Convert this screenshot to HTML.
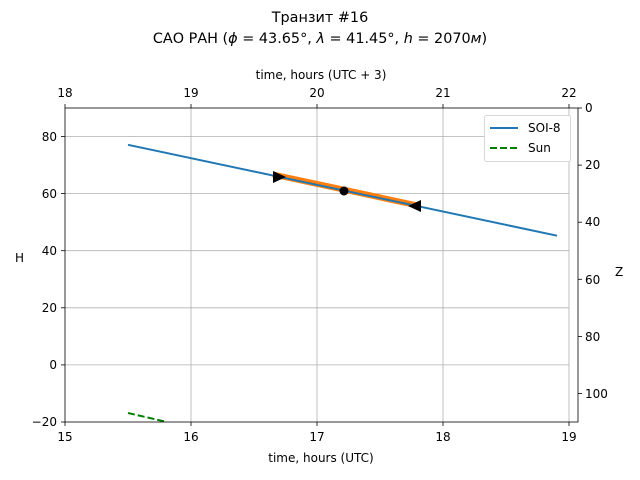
<!DOCTYPE html>
<html><head><meta charset="utf-8"><style>body{margin:0;background:#fff}svg{display:block}text{font-family:"DejaVu Sans","Liberation Sans",sans-serif;fill:#000}</style></head><body>
<svg width="640" height="480" xmlns="http://www.w3.org/2000/svg">
<text x="320" y="22" font-size="14.4" text-anchor="middle">Транзит #16</text>
<text x="320" y="43" font-size="14.4" text-anchor="middle">САО РАН (<tspan font-style="italic">ϕ</tspan> = 43.65°, <tspan font-style="italic">λ</tspan> = 41.45°, <tspan font-style="italic">h</tspan> = 2070<tspan font-style="italic">м</tspan>)</text>
<g stroke="#b0b0b0" stroke-width="0.8">
<line x1="191" y1="108" x2="191" y2="422"/><line x1="317" y1="108" x2="317" y2="422"/><line x1="443" y1="108" x2="443" y2="422"/><line x1="569" y1="108" x2="569" y2="422"/>
<line x1="65" y1="136.5" x2="569" y2="136.5"/><line x1="65" y1="193.6" x2="569" y2="193.6"/><line x1="65" y1="250.7" x2="569" y2="250.7"/><line x1="65" y1="307.8" x2="569" y2="307.8"/><line x1="65" y1="364.9" x2="569" y2="364.9"/>
</g>
<line x1="273" y1="174.5" x2="420" y2="206" stroke="#ff7f0e" stroke-width="6"/>
<line x1="128" y1="144.8" x2="557" y2="235.7" stroke="#1f77b4" stroke-width="2"/>
<line x1="128" y1="413" x2="167" y2="422" stroke="green" stroke-width="2" stroke-dasharray="7,3"/>
<polygon points="273,171 273,183 286,177" fill="#000"/>
<circle cx="344" cy="191" r="4.5" fill="#000"/>
<polygon points="421,200 421,212 408,206" fill="#000"/>
<rect x="65" y="108" width="513" height="314" fill="none" stroke="#000" stroke-width="0.8"/>
<g stroke="#000" stroke-width="0.8">
<line x1="65" y1="422" x2="65" y2="426"/><line x1="191" y1="422" x2="191" y2="426"/><line x1="317" y1="422" x2="317" y2="426"/><line x1="443" y1="422" x2="443" y2="426"/><line x1="569" y1="422" x2="569" y2="426"/>
<line x1="65" y1="108" x2="65" y2="104"/><line x1="191" y1="108" x2="191" y2="104"/><line x1="317" y1="108" x2="317" y2="104"/><line x1="443" y1="108" x2="443" y2="104"/><line x1="569" y1="108" x2="569" y2="104"/>
<line x1="65" y1="136.5" x2="61" y2="136.5"/><line x1="65" y1="193.6" x2="61" y2="193.6"/><line x1="65" y1="250.7" x2="61" y2="250.7"/><line x1="65" y1="307.8" x2="61" y2="307.8"/><line x1="65" y1="364.9" x2="61" y2="364.9"/><line x1="65" y1="422" x2="61" y2="422"/>
<line x1="578" y1="108" x2="582" y2="108"/><line x1="578" y1="165.1" x2="582" y2="165.1"/><line x1="578" y1="222.2" x2="582" y2="222.2"/><line x1="578" y1="279.3" x2="582" y2="279.3"/><line x1="578" y1="336.4" x2="582" y2="336.4"/><line x1="578" y1="393.5" x2="582" y2="393.5"/>
</g>
<g font-size="12" text-anchor="middle">
<text x="65" y="441">15</text><text x="191" y="441">16</text><text x="317" y="441">17</text><text x="443" y="441">18</text><text x="569" y="441">19</text>
<text x="65" y="97">18</text><text x="191" y="97">19</text><text x="317" y="97">20</text><text x="443" y="97">21</text><text x="569" y="97">22</text>
<text x="321" y="462">time, hours (UTC)</text><text x="321" y="79">time, hours (UTC + 3)</text>
</g>
<g font-size="12" text-anchor="end">
<text x="57" y="141">80</text><text x="57" y="198">60</text><text x="57" y="255">40</text><text x="57" y="312">20</text><text x="57" y="369">0</text><text x="57" y="426">−20</text>
</g>
<g font-size="12">
<text x="585" y="112">0</text><text x="585" y="169">20</text><text x="585" y="226">40</text><text x="585" y="284">60</text><text x="585" y="341">80</text><text x="585" y="398">100</text>
</g>
<text x="15" y="262" font-size="12">H</text><text x="615" y="276" font-size="12">Z</text>
<rect x="484.5" y="115.5" width="86" height="46" rx="2" fill="#fff" stroke="#ccc" stroke-width="0.8"/>
<line x1="490" y1="128" x2="518" y2="128" stroke="#1f77b4" stroke-width="2"/>
<text x="528" y="132" font-size="12">SOI-8</text>
<line x1="490" y1="148" x2="518" y2="148" stroke="green" stroke-width="2" stroke-dasharray="7,3"/>
<text x="528" y="152" font-size="12">Sun</text>
</svg>
</body></html>
